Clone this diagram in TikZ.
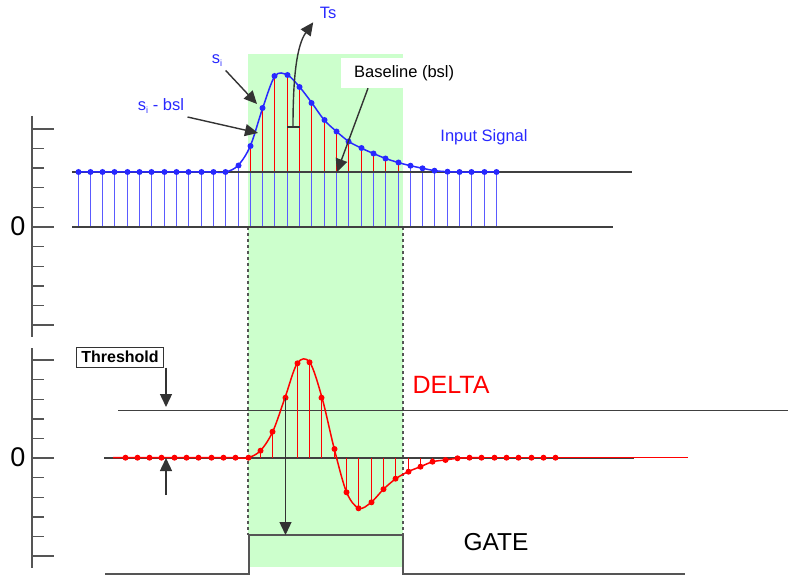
\documentclass[tikz,border=0pt]{standalone}
\usepackage{fontspec}
\setmainfont{Liberation Sans}
\usetikzlibrary{arrows.meta}
\definecolor{gatebg}{RGB}{204,255,204}
\definecolor{sigblue}{RGB}{40,40,255}
\definecolor{stemblue}{RGB}{90,90,255}
\definecolor{axgray}{RGB}{85,85,85}
\newcommand{\sz}[1]{\fontsize{#1}{#1}\selectfont}

\begin{document}
\begin{tikzpicture}[x=1pt,y=-1pt,
  pointer/.style={-{Triangle[length=13pt,width=12pt]},line width=1.4pt,black!80},
  stem/.style={line width=1.8pt}]
      \useasboundingbox (0,0) rectangle (788,575);
      % gate window
      \fill[gatebg] (248,54) rectangle (403,567);
      \node[fill=white,anchor=west,minimum width=120pt,minimum height=30pt,
            inner xsep=13pt,align=left] (bsl) at (341,73) {\sz{16.5}Baseline (bsl)};
      % axes
      \draw[axgray,line width=1.5pt] (32,116) -- (32,337);
      \draw[axgray,line width=1.5pt] (32,348) -- (32,568);
      \foreach \k in {0,...,10} {
        \pgfmathsetmacro\ya{129+19.6*\k}
        \pgfmathsetmacro\yb{360+19.6*\k}
        \draw[axgray,line width=1.4pt] (32,\ya) -- (44,\ya);
        \draw[axgray,line width=1.4pt] (32,\yb) -- (44,\yb);
      }
      \foreach \yy in {129,227,325,360,458,556}
        \draw[axgray,line width=1.4pt] (32,\yy) -- (54,\yy);
      \node (zerotop) at (18,226) {\sz{27}0};
      \node (zerobot) at (18,457) {\sz{27}0};
      % dashed gate edges
      \draw[axgray,dashed,line width=1.2pt] (248,227) -- (248,535);
      \draw[axgray,dashed,line width=1.2pt] (403,227) -- (403,535);
      % input signal
      \foreach \i/\y/\c in {0/172/stemblue,1/172/stemblue,2/172/stemblue,3/172/stemblue,
                        4/172/stemblue,5/172/stemblue,6/172/stemblue,7/172/stemblue,
                        8/172/stemblue,9/172/stemblue,10/172/stemblue,11/172/stemblue,
                        12/172/stemblue,13/165.5/stemblue,14/146/red,15/108/red,16/76/red,
                        17/75/red,18/87/red,19/103/red,20/120/red,21/131.5/red,22/141.5/red,
                        23/148/red,24/153.5/red,25/158.5/red,26/162.5/red,27/165.7/stemblue,
                        28/168.3/stemblue,29/170.7/stemblue,30/171.7/stemblue,
                        31/172/stemblue,32/172/stemblue,33/172/stemblue,34/172/stemblue} {
        \pgfmathsetmacro\xx{floor(78+12.31*\i)+0.5}
        \draw[stemblue,stem] (\xx,227) -- (\xx,172);
        \draw[\c,stem] (\xx,172) -- (\xx,\y);
      }
      \draw[black!75,line width=1.4pt] (72,172) -- (632,172);
      \draw[black!75,line width=1.4pt] (72,227) -- (613,227);
      \draw[sigblue,line width=1.5pt] plot[smooth,tension=0.55] coordinates {
        (78,172) (90.3,172) (102.6,172) (114.9,172) (127.2,172) (139.6,172)
        (151.9,172) (164.2,172) (176.5,172) (188.8,172) (201.1,172) (213.4,172)
        (225.7,172) (238.0,165.5) (250.3,146) (262.7,108) (275.0,76) (287.3,75)
        (299.6,87) (311.9,103) (324.2,120) (336.5,131.5) (348.8,141.5) (361.1,148)
        (373.4,153.5) (385.7,158.5) (398.1,162.5) (410.4,165.7) (422.7,168.3)
        (435.0,170.7) (447.3,171.7) (459.6,172) (471.9,172) (484.2,172) (496.5,172)};
      \foreach \i/\y in {0/172,1/172,2/172,3/172,4/172,5/172,6/172,7/172,8/172,9/172,
                        10/172,11/172,12/172,13/165.5,14/146,15/108,16/76,17/75,18/87,
                        19/103,20/120,21/131.5,22/141.5,23/148,24/153.5,25/158.5,26/162.5,
                        27/165.7,28/168.3,29/170.7,30/171.7,31/172,32/172,33/172,34/172} {
        \pgfmathsetmacro\xx{floor(78+12.31*\i)+0.5}
        \fill[sigblue] (\xx,\y) circle (3);
      }
      \node[text=sigblue] (inputsig) at (484,137) {\sz{16.5}Input Signal};
      % annotations on the pulse
      \node[text=sigblue] (ts) at (328,13) {\sz{16.5}Ts};
      \coordinate (tsfoot) at (293,127);
      \draw[black!80,line width=1.4pt] (287,127) -- (300,127);
      \draw[pointer] (tsfoot) .. controls (293,75) and (297,45) .. ([xshift=-3pt]ts.south west);
      \node[text=sigblue] (si) at (217,61) {\sz{16.5}s\raisebox{-3pt}{\sz{9}i}};
      \coordinate (sitip) at (257,104);
      \draw[pointer] (si.south east) -- (sitip);
      \node[text=sigblue] (sibsl) at (161,106) {\sz{16.5}s\raisebox{-3pt}{\sz{9}i} - bsl};
      \coordinate (sibtip) at (258,133);
      \draw[pointer] (sibsl.south east) -- (sibtip);
      \coordinate (bsltip) at (337,172);
      \draw[pointer] ([xshift=27pt]bsl.south west) -- (bsltip);
      % delta signal
      \draw[black!75,line width=1.4pt] (118,410.5) -- (788,410.5);
      \draw[black!75,line width=1.4pt] (104,458) -- (634,458);
      \foreach \j/\y in {11/450.7,12/431.7,13/397.7,14/363.3,15/362.3,16/397.7,17/449,
                        18/492.3,19/508.3,20/502.3,21/489.2,22/478.7,23/471.7,24/466.7,
                        25/461.7,26/460,27/458.3} {
        \pgfmathsetmacro\xx{floor(125+12.31*\j)+0.5}
        \draw[red,line width=1.5pt] (\xx,458) -- (\xx,\y);
      }
      \draw[red,line width=1.5pt] plot[smooth,tension=0.55] coordinates {
        (113,457.7) (125,457.7) (137.3,457.7) (149.6,457.7) (161.9,457.7) (174.2,457.7)
        (186.6,457.7) (198.9,457.7) (211.2,457.7) (223.5,457.7) (235.8,457.7)
        (248.1,457.7) (260.4,450.7) (272.7,431.7) (285.0,397.7) (297.3,363.3)
        (309.7,362.3) (322.0,397.7) (334.3,449) (346.6,492.3) (358.9,508.3)
        (371.2,502.3) (383.5,489.2) (395.8,478.7) (408.1,471.7) (420.4,466.7)
        (432.8,461.7) (445.1,460) (457.4,458.3) (469.7,457.7) (482,457.7)};
      \draw[red,line width=1.5pt] (482,457.7) -- (688,457.7);
      \foreach \j/\y in {0/457.7,1/457.7,2/457.7,3/457.7,4/457.7,5/457.7,6/457.7,
                        7/457.7,8/457.7,9/457.7,10/457.7,11/450.7,12/431.7,13/397.7,
                        14/363.3,15/362.3,16/397.7,17/449,18/492.3,19/508.3,20/502.3,
                        21/489.2,22/478.7,23/471.7,24/466.7,25/461.7,26/460,27/458.3,
                        28/457.7,29/457.7,30/457.7,31/457.7,32/457.7,33/457.7,34/457.7,
                        35/457.7} {
        \pgfmathsetmacro\xx{floor(125+12.31*\j)+0.5}
        \fill[red] (\xx,\y) circle (3);
      }
      \node[text=red] (delta) at (451,385) {\sz{25}DELTA};
      % threshold
      \node[draw=black!80,line width=1pt,inner xsep=5pt,inner ysep=2pt,
            minimum height=20pt] (thr) at (120,357) {\sz{16}\bfseries Threshold};
      \coordinate (thrtip) at (166,407);
      \draw[pointer] (thr.south east -| thrtip) -- (thrtip);
      \coordinate (offfoot) at (166,495);
      \coordinate (offtip) at (166,458);
      \draw[pointer] (offfoot) -- (offtip);
      % gate
      \draw[axgray,line width=1.8pt] (105,574) -- (249,574) -- (249,535)
            -- (403,535) -- (403,574) -- (685,574);
      \coordinate (trig) at (285.5,397.7);
      \coordinate (gatehi) at (285.5,535);
      \draw[pointer] (trig) -- (gatehi);
      \node (gate) at (496,542) {\sz{24.5}GATE};
     \end{tikzpicture}
\end{document}
